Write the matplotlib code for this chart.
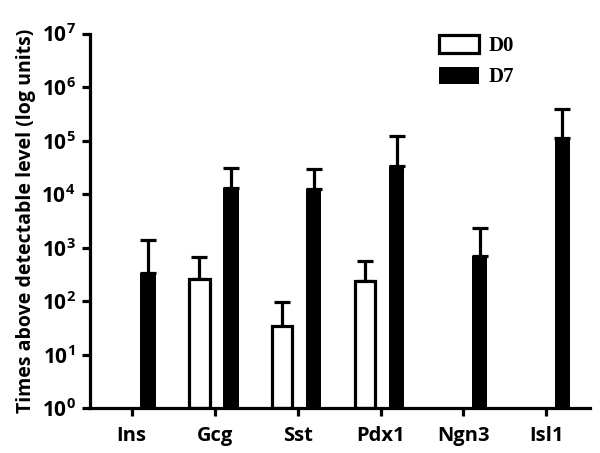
import numpy as np
import matplotlib
matplotlib.use('Agg')
import matplotlib.pyplot as plt
from matplotlib.ticker import FixedLocator, FuncFormatter

plt.rcParams['font.family'] = ['Open Sans', 'DejaVu Sans']
plt.rcParams['font.weight'] = 'bold'
plt.rcParams['mathtext.fontset'] = 'custom'
plt.rcParams['mathtext.rm'] = 'Open Sans:bold'
plt.rcParams['mathtext.bf'] = 'Open Sans:bold'

# values (fold above detectable level)
genes = ['Ins', 'Gcg', 'Sst', 'Pdx1', 'Ngn3', 'Isl1']
d0_mean = [np.nan, 255, 33, 237, np.nan, np.nan]
d0_upper = [np.nan, 680, 96, 560, np.nan, np.nan]
d7_mean = [340, 13000, 12300, 33500, 690, 112000]
d7_upper = [1400, 30800, 29000, 121000, 2290, 384000]

x = np.arange(len(genes))
lw = 2.3

fig = plt.figure(figsize=(6, 4.53), dpi=100)
ax = fig.add_axes([0.15, 0.099, 0.834, 0.827])

d0 = np.array(d0_mean, dtype=float)
d7 = np.array(d7_mean, dtype=float)
ok = ~np.isnan(d0)

ax.bar(x[ok] - 0.187, d0[ok], width=0.25, bottom=1, color='white',
       edgecolor='black', linewidth=lw, label='D0', zorder=2)
ax.bar(x + 0.193, d7 - 1, width=0.19, bottom=1, color='black',
       edgecolor='black', linewidth=0, label='D7', zorder=2)

# upper error bars only
ax.errorbar(x[ok] - 0.187, d0[ok],
            yerr=[np.zeros(ok.sum()), np.array(d0_upper)[ok] - d0[ok]],
            fmt='none', ecolor='black', elinewidth=lw, capsize=5.5, capthick=lw, zorder=1)
ax.errorbar(x + 0.193, d7,
            yerr=[np.zeros(len(x)), np.array(d7_upper) - d7],
            fmt='none', ecolor='black', elinewidth=lw, capsize=5.5, capthick=lw, zorder=1)

ax.set_yscale('log')
ax.set_ylim(1, 1e7)
ax.set_xlim(-0.503, 5.53)
ax.yaxis.set_major_locator(FixedLocator([10.0 ** k for k in range(8)]))
ax.yaxis.set_minor_locator(FixedLocator([]))
ax.yaxis.set_major_formatter(FuncFormatter(lambda v, p: r'$\mathbf{10^{%d}}$' % round(np.log10(v))))

ax.set_xticks(x)
ax.set_xticklabels(genes, fontsize=14.5, fontweight='bold')
for lab in ax.get_yticklabels():
    lab.set_fontsize(15)

for s in ['top', 'right']:
    ax.spines[s].set_visible(False)
for s in ['left', 'bottom']:
    ax.spines[s].set_linewidth(lw)
ax.tick_params(axis='both', width=lw, length=5.5, pad=5)
ax.tick_params(axis='x', pad=7)

ax.set_ylabel('Times above detectable level (log units)', fontsize=14, fontweight='bold', labelpad=4)

leg = ax.legend(loc='upper left', bbox_to_anchor=(0.66, 1.045), frameon=False,
                prop={'family': 'Liberation Serif', 'weight': 'bold', 'size': 15},
                handlelength=1.9, handleheight=0.9, labelspacing=0.5, handletextpad=0.5)

fig.savefig('out.png', dpi=100)
